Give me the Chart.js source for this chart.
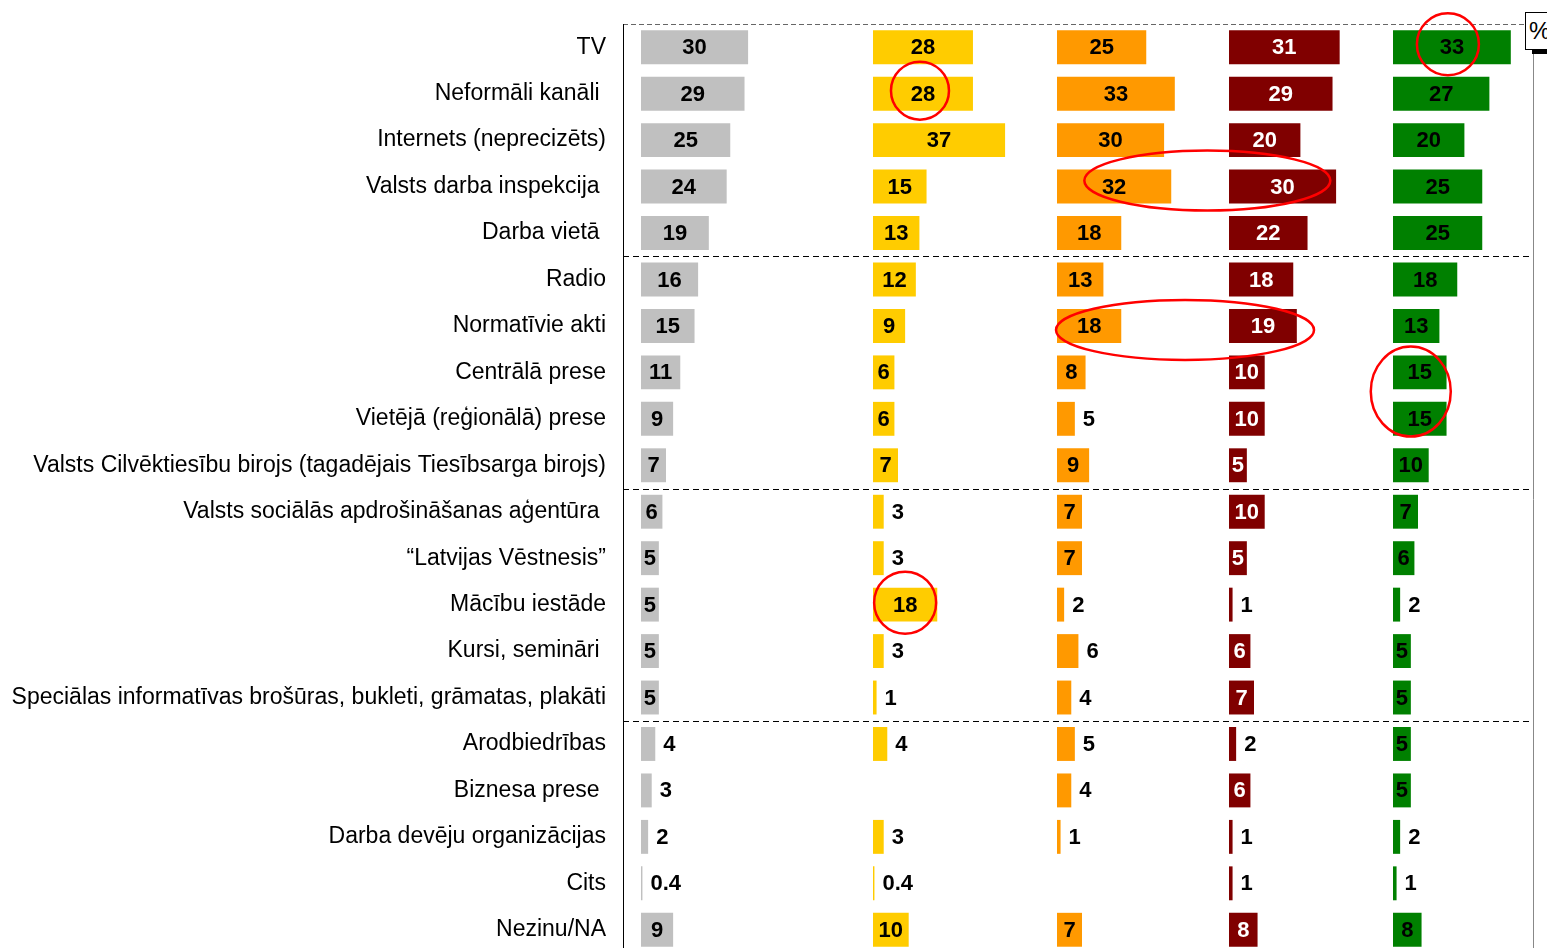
<!DOCTYPE html>
<html>
<head>
<meta charset="utf-8">
<script src="https://cdn.jsdelivr.net/npm/chart.js@4.4.1/dist/chart.umd.min.js"></script>
<style>
  html, body { margin: 0; padding: 0; background: #fff; overflow: hidden; }
  #wrap { position: relative; width: 1547px; height: 948px; overflow: hidden; }
  #pct { position: absolute; left: 1525px; top: 12px; width: 30px; height: 36px; border: 1px solid #000;
         background: #fff; font: 24px "Liberation Sans", Arial, sans-serif; line-height: 36px; padding-left: 3px; }
  #pctbar { position: absolute; left: 1532px; top: 49px; width: 20px; height: 5px; background: #000; }
</style>
</head>
<body>
<div id="wrap">
  <canvas id="chart" width="1547" height="960"></canvas>
  <div id="pct">%</div>
  <div id="pctbar"></div>
</div>
<script>
const categories = [
  'TV', 'Neformāli kanāli ', 'Internets (neprecizēts)', 'Valsts darba inspekcija ', 'Darba vietā ',
  'Radio', 'Normatīvie akti', 'Centrālā prese', 'Vietējā (reģionālā) prese',
  'Valsts Cilvēktiesību birojs (tagadējais Tiesībsarga birojs)',
  'Valsts sociālās apdrošināšanas aģentūra ', '“Latvijas Vēstnesis”', 'Mācību iestāde', 'Kursi, semināri ',
  'Speciālas informatīvas brošūras, bukleti, grāmatas, plakāti',
  'Arodbiedrības', 'Biznesa prese ', 'Darba devēju organizācijas', 'Cits', 'Nezinu/NA'
];

const series1 = [30, 29, 25, 24, 19, 16, 15, 11, 9, 7, 6, 5, 5, 5, 5, 4, 3, 2, 0.4, 9];
const series2 = [28, 28, 37, 15, 13, 12, 9, 6, 6, 7, 3, 3, 18, 3, 1, 4, null, 3, 0.4, 10];
const series3 = [25, 33, 30, 32, 18, 13, 18, 8, 5, 9, 7, 7, 2, 6, 4, 5, 4, 1, null, 7];
const series4 = [31, 29, 20, 30, 22, 18, 19, 10, 10, 5, 10, 5, 1, 6, 7, 2, 6, 1, 1, 8];
const series5 = [33, 27, 20, 25, 25, 18, 13, 15, 15, 10, 7, 6, 2, 5, 5, 5, 5, 2, 1, 8];

const allSeries = [series1, series2, series3, series4, series5];
const colors = ['#C0C0C0', '#FFCC00', '#FF9900', '#800000', '#008000'];
const labelColors = ['#000', '#000', '#000', '#fff', '#000'];
const insideMin = [5, 5, 7, 5, 5];

// group separators after these row counts
const groupBreaks = [5, 10, 15];

// red hand-drawn highlights: which cells, ellipse size and small nudge
const highlights = [
  { series: [4], rows: [0], rx: 31, ry: 31, dx: -4, dy: -3 },
  { series: [1], rows: [1], rx: 29, ry: 29, dx: -3, dy: -3 },
  { series: [2, 3], rows: [3], rx: 123, ry: 30, dx: 9, dy: -6 },
  { series: [2, 3], rows: [6], rx: 129, ry: 30, dx: 9, dy: 4 },
  { series: [4], rows: [7, 8], rx: 40, ry: 45, dx: -9, dy: -4 },
  { series: [1], rows: [12], rx: 31, ry: 31, dx: 0, dy: -2 }
];

// panel layout (pixels)
const areaLeft = 623, areaRight = 1532;
const panelStart = [641, 873, 1057, 1229, 1393];
const pxPerUnit = 3.57;

const FONT = '"Liberation Sans", Arial, Helvetica, sans-serif';

const xScales = {};
panelStart.forEach((p, i) => {
  xScales['x' + i] = {
    type: 'linear',
    display: false,
    min: -(p - areaLeft) / pxPerUnit,
    max: (areaRight - p) / pxPerUnit
  };
});

const overlay = {
  id: 'overlay',
  beforeDatasetsDraw(chart) {
    const { ctx, chartArea, scales } = chart;
    const y = scales.y;
    const step = y.getPixelForValue(1) - y.getPixelForValue(0);
    ctx.save();
    ctx.lineWidth = 1;
    // top dashed border
    ctx.strokeStyle = '#666';
    ctx.setLineDash([5, 3]);
    ctx.beginPath();
    ctx.moveTo(chartArea.left, chartArea.top + 0.5);
    ctx.lineTo(chartArea.right, chartArea.top + 0.5);
    ctx.stroke();
    // group separators
    ctx.strokeStyle = '#000';
    ctx.setLineDash([6, 4]);
    groupBreaks.forEach(b => {
      const yy = Math.round(y.getPixelForValue(b) - step / 2) + 0.5;
      ctx.beginPath();
      ctx.moveTo(chartArea.left, yy);
      ctx.lineTo(chartArea.right, yy);
      ctx.stroke();
    });
    ctx.setLineDash([]);
    // left border
    ctx.strokeStyle = '#000';
    ctx.beginPath();
    ctx.moveTo(chartArea.left + 0.5, chartArea.top);
    ctx.lineTo(chartArea.left + 0.5, chart.height);
    ctx.stroke();
    // right border
    ctx.strokeStyle = '#888';
    ctx.beginPath();
    ctx.moveTo(chartArea.right + 1.5, chartArea.top + 15);
    ctx.lineTo(chartArea.right + 1.5, chart.height);
    ctx.stroke();
    ctx.restore();
  },
  afterDatasetsDraw(chart) {
    const { ctx } = chart;
    ctx.save();
    ctx.font = 'bold 22px ' + FONT;
    ctx.textBaseline = 'middle';
    const centers = [];
    chart.data.datasets.forEach((ds, i) => {
      const meta = chart.getDatasetMeta(i);
      centers[i] = [];
      meta.data.forEach((bar, j) => {
        const v = ds.data[j];
        if (v === null || v === undefined) return;
        const txt = String(v);
        const mid = (bar.x + bar.base) / 2;
        centers[i][j] = { x: mid, y: bar.y };
        if (v >= insideMin[i]) {
          ctx.textAlign = 'center';
          ctx.fillStyle = labelColors[i];
          ctx.fillText(txt, mid, bar.y + 1);
        } else {
          ctx.textAlign = 'left';
          ctx.fillStyle = '#000';
          ctx.fillText(txt, bar.x + 8, bar.y + 1);
        }
      });
    });
    // red highlight ellipses
    ctx.strokeStyle = '#FF0000';
    ctx.lineWidth = 2.5;
    highlights.forEach(h => {
      let sx = 0, sy = 0, n = 0;
      h.series.forEach(s => h.rows.forEach(r => {
        const c = centers[s][r];
        if (c) { sx += c.x; sy += c.y; n++; }
      }));
      if (!n) return;
      ctx.beginPath();
      ctx.ellipse(sx / n + h.dx, sy / n + h.dy, h.rx, h.ry, 0, 0, Math.PI * 2);
      ctx.stroke();
    });
    ctx.restore();
  }
};

new Chart(document.getElementById('chart'), {
  type: 'bar',
  data: {
    labels: categories,
    datasets: allSeries.map((vals, i) => ({
      data: vals,
      xAxisID: 'x' + i,
      backgroundColor: colors[i],
      borderWidth: 0,
      grouped: false,
      barPercentage: 0.73,
      categoryPercentage: 1
    }))
  },
  options: {
    indexAxis: 'y',
    responsive: false,
    animation: false,
    layout: { padding: { top: 24, right: 15, bottom: 7, left: 0 } },
    plugins: {
      legend: { display: false },
      tooltip: { enabled: false }
    },
    scales: Object.assign({
      y: {
        type: 'category',
        offset: true,
        grid: { display: false, drawTicks: false },
        border: { display: false },
        ticks: {
          color: '#000',
          padding: 17,
          autoSkip: false,
          font: { family: FONT, size: 23 }
        },
        afterFit(scale) {
          scale.width = areaLeft;
          scale.paddingTop = 0;
          scale.paddingBottom = 0;
        }
      }
    }, xScales)
  },
  plugins: [overlay]
});
</script>
</body>
</html>
